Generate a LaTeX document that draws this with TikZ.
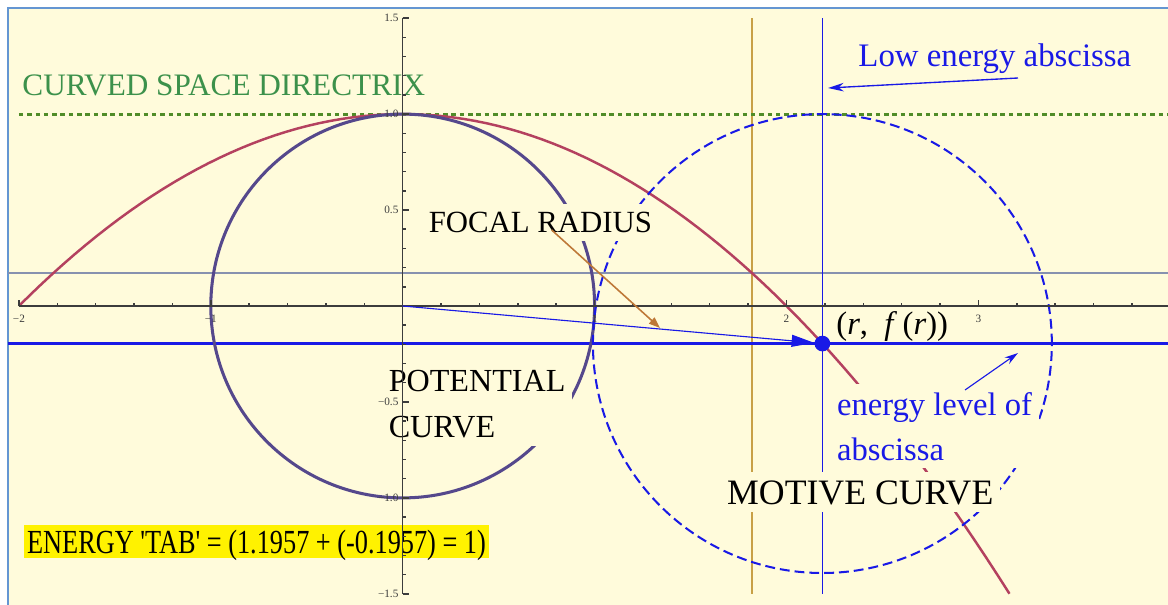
\documentclass[tikz,border=0pt]{standalone}
\usepackage{fontspec}
\usepackage{graphicx}
\setmainfont{Liberation Serif}
\usetikzlibrary{arrows.meta, positioning}

\definecolor{plotbg}{RGB}{255,251,219}
\definecolor{framecol}{RGB}{100,150,210}
\definecolor{dirgreen}{RGB}{80,140,40}
\definecolor{txtgreen}{RGB}{60,145,75}
\definecolor{motblue}{RGB}{25,25,230}
\definecolor{potpurple}{RGB}{85,72,140}
\definecolor{fcrimson}{RGB}{180,65,95}
\definecolor{goldline}{RGB}{200,160,70}
\definecolor{focbrown}{RGB}{190,120,55}
\definecolor{refgray}{RGB}{135,145,175}
\definecolor{axisgray}{RGB}{60,60,60}

\begin{document}
\begin{tikzpicture}[x=3cm, y=3cm,
  axisline/.style={axisgray, line width=0.65pt},
  ticklbl/.style={font=\fontsize{5}{6}\selectfont, text=axisgray, inner sep=0pt},
  plainlbl/.style={inner sep=0pt, anchor=base west},
  gapbox/.style={fill=plotbg, inner xsep=3pt, inner ysep=3.5pt, xshift=-3pt, anchor=base west, align=left}
]
  \def\absc{2.187}
  \def\fval{-0.1957}
  \def\rad{1.1957}

  % background and frame
  \useasboundingbox (-2.0985,-1.5529) rectangle (3.988,1.5946);
  \fill[white] (-2.0985,-1.5529) rectangle (3.988,1.5946);
  \filldraw[fill=plotbg, draw=framecol, line width=0.8pt] (-2.0568,-1.7) rectangle (4.1,1.5529);

  % reference lines
  \draw[refgray, line width=0.7pt] (-2.0568,0.173) -- (3.988,0.173);
  \draw[goldline, line width=0.7pt] (1.8187,-1.5) -- (1.8187,1.5);
  \draw[motblue, line width=0.6pt] (\absc,-1.5) -- (\absc,1.5);
  \draw[motblue, line width=1.3pt] (-2.0568,\fval) -- (3.988,\fval);
  \draw[dirgreen, line width=1.3pt, dash pattern=on 2pt off 1.7pt] (-2,1) -- (3.988,1);

  % curves
  \draw[fcrimson, line width=1.1pt, domain=-2:3.1623, samples=90] plot (\x,{1-\x*\x/4});
  \draw[potpurple, line width=1.35pt] (0,0) circle (1);
  \draw[motblue, line width=0.9pt, dash pattern=on 4.4pt off 2.2pt] (\absc,\fval) circle (\rad);

  % labels (multi-line boxes sit on the baseline of their last line)
  \node[plainlbl, text=txtgreen, font=\fontsize{13.9}{16}\selectfont] (directrix) at (-1.9838,1.0995) {CURVED SPACE DIRECTRIX};
  \node[plainlbl, text=motblue, font=\fontsize{14.6}{17}\selectfont] (lowlbl) at (2.3726,1.2470) {Low energy abscissa};
  \node[gapbox, font=\fontsize{13.7}{16}\selectfont] (focal) at (0.1334,0.3820) {FOCAL RADIUS};
  \node[gapbox, font=\fontsize{14.3}{20.3}\selectfont] (potential) at (-0.0750,-0.6842) {POTENTIAL\\CURVE};
  \node[gapbox, text=motblue, font=\fontsize{14.5}{20}\selectfont] (levellbl) at (2.2616,-0.8025) {energy level of\\abscissa};
  \node[gapbox, font=\fontsize{15.9}{18}\selectfont] (motive) at (1.6884,-1.0318) {MOTIVE CURVE};
  \node[plainlbl, font=\fontsize{14.5}{17}\selectfont] (rlbl) at (2.2579,-0.1511) {(\textit{r},\ \ \textit{f}\,(\textit{r}))};
  \node[fill=yellow, anchor=base west, inner xsep=1.5pt, inner ysep=0pt, xshift=-1.5pt,
        text height=12.6pt, text depth=2.1pt, font=\fontsize{15}{17}\selectfont] (energy) at (-1.9594,-1.2887)
    {\scalebox{0.78}[1]{ENERGY \textquotesingle TAB\textquotesingle{} = (1.1957 + (-0.1957) = 1)}};

  % axes
  \draw[axisline] (-2,0) -- (3.988,0);
  \foreach \x in {-2,-1.8,...,3.85}
    \draw[axisline] (\x,0) -- ++(0,1.5pt);
  \foreach \x in {-2,-1,1,2,3}
    \draw[axisline] (\x,0) -- ++(0,2.7pt);
  \draw[axisline] (0,-1.5) -- (0,1.5);
  \foreach \y in {-1.5,-1.4,...,1.55}
    \draw[axisline] (0,\y) -- ++(1.5pt,0);
  \foreach \y in {-1.5,-1,-0.5,0.5,1,1.5}
    \draw[axisline] (0,\y) -- ++(2.7pt,0);
  \foreach \x/\t in {-2/−2,-1/−1,1/1,2/2,3/3}
    \node[ticklbl] at (\x,-0.066) {\t};
  \foreach \y/\t in {1.5/1.5,1/1.0,0.5/0.5,-0.5/−0.5,-1/−1.0,-1.5/−1.5}
    \node[ticklbl, anchor=east] at (-0.02,\y) {\t};

  % point and arrows
  \coordinate (O) at (0,0);
  \node[circle, fill=motblue, inner sep=0pt, minimum size=7pt] (P) at (\absc,\fval) {};
  \draw[motblue, line width=0.5pt, -{Triangle[length=10pt,width=5.3pt]}] (O) -- (P);
  \coordinate (focstart) at (0.7764,0.3960);
  \coordinate (focend) at (1.3408,-0.1146);
  \draw[focbrown, line width=0.7pt, -{Triangle[length=5pt,width=3.6pt]}] (focstart) -- (focend);
  \coordinate (lowstart) at (3.2063,1.1881);
  \coordinate (lowend) at (2.2163,1.1360);
  \draw[motblue, line width=0.6pt, -{Stealth[length=7pt,width=3.8pt]}] (lowstart) -- (lowend);
  \coordinate (levstart) at (2.9302,-0.4377);
  \coordinate (levend) at (3.2063,-0.2449);
  \draw[motblue, line width=0.5pt, -{Stealth[length=6pt,width=3.5pt]}] (levstart) -- (levend);
\end{tikzpicture}
\end{document}
